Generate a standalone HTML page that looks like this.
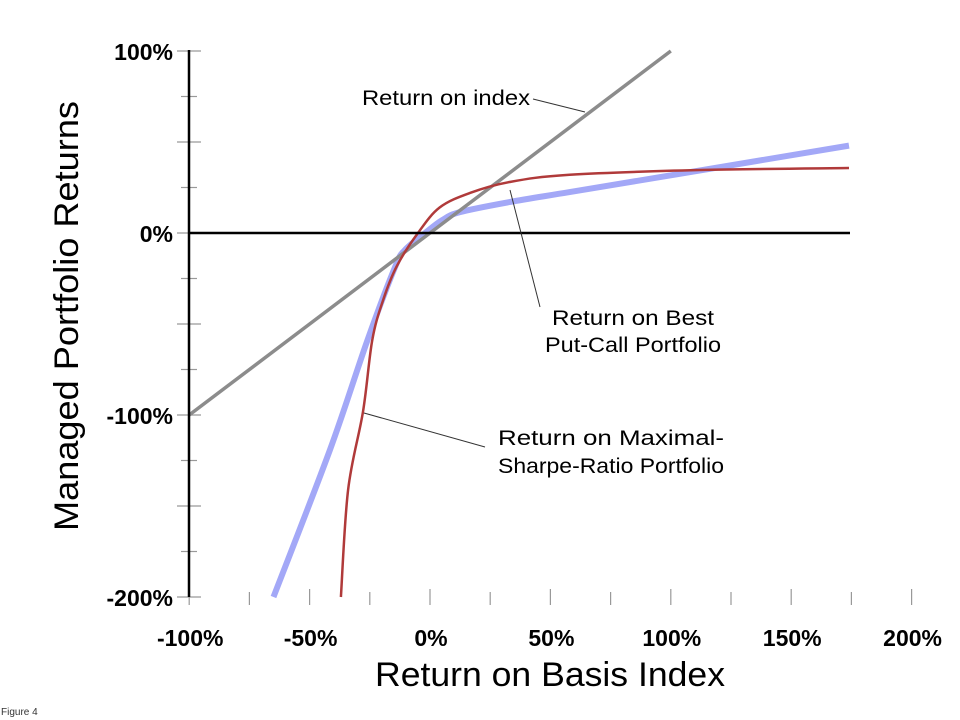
<!DOCTYPE html>
<html><head><meta charset="utf-8"><style>
body{margin:0;background:#fff;}
svg{display:block;font-family:"Liberation Sans",Arial,sans-serif;}
</style></head><body>
<svg id="chart" width="960" height="720" viewBox="0 0 960 720">
<rect width="960" height="720" fill="#fff"/>
<g id="ticks"></g>
<g id="series"></g>
<g id="labels"></g>
<line x1="189" y1="50" x2="189" y2="597" stroke="#000" stroke-width="2.5"/>
<line x1="189" y1="233" x2="850" y2="233" stroke="#000" stroke-width="2.5"/>
<g font-size="21" fill="#000">
<text x="362" y="105" textLength="168" lengthAdjust="spacingAndGlyphs">Return on index</text>
<line x1="533" y1="99" x2="585" y2="112" stroke="#333" stroke-width="1"/>
<text text-anchor="middle" x="633" y="325" textLength="162" lengthAdjust="spacingAndGlyphs">Return on Best</text>
<text text-anchor="middle" x="633" y="352" textLength="176" lengthAdjust="spacingAndGlyphs">Put-Call Portfolio</text>
<line x1="510" y1="190" x2="540" y2="307" stroke="#333" stroke-width="1"/>
<text text-anchor="middle" x="611" y="445" textLength="226" lengthAdjust="spacingAndGlyphs">Return on Maximal-</text>
<text text-anchor="middle" x="611" y="473" textLength="226" lengthAdjust="spacingAndGlyphs">Sharpe-Ratio Portfolio</text>
<line x1="364" y1="413" x2="485" y2="447" stroke="#333" stroke-width="1"/>
</g>
<text font-size="34" text-anchor="middle" transform="translate(78,316) rotate(-90)" textLength="430" lengthAdjust="spacingAndGlyphs">Managed Portfolio Returns</text>
<text font-size="34" text-anchor="middle" x="550" y="686" textLength="350" lengthAdjust="spacingAndGlyphs">Return on Basis Index</text>
<text font-size="10" x="1" y="715" fill="#333">Figure 4</text>
</svg>
<script>
const xTicks=[-100,-50,0,50,100,150,200];
const yTicks=[100,0,-100,-200];
const indexX=[-100,100];
const indexY=[-100,100];
const putCallX=[-65,-41.5,-26,-14.5,-10.4,-2,5,12.5,33,58,100,174];
const putCallY=[-200,-119,-59,-18.7,-9.3,0,7,11.5,17,22.5,31.7,48];
const sharpeX=[-37,-34,-27.8,-24,-19.5,-13.7,-5,4,16.6,33,58,112,174];
const sharpeY=[-200,-141,-98,-59,-37,-18,0,14,22,28,32,34.6,35.7];
const NS="http://www.w3.org/2000/svg";
function sx(v){return 430+v*2.408;}
function sy(v){return 233-v*1.82;}
const tg=document.getElementById('ticks');
for(let v=-100;v<=200;v+=25){
 const l=document.createElementNS(NS,'line');
 
 
 l.setAttribute('x1',sx(v));l.setAttribute('x2',sx(v));
 l.setAttribute('y1',v%50===0?589:592);l.setAttribute('y2',605);
 l.setAttribute('stroke','#999');l.setAttribute('stroke-width','1.2');tg.appendChild(l);
}
for(let v=-200;v<=100;v+=25){
 const l=document.createElementNS(NS,'line');
 
 
 const w=v%50===0?12:8;
 l.setAttribute('x1',189-w);l.setAttribute('x2',189+w);
 l.setAttribute('y1',sy(v));l.setAttribute('y2',sy(v));
 l.setAttribute('stroke','#999');l.setAttribute('stroke-width','1.2');tg.appendChild(l);
}
const lg=document.getElementById('labels');
xTicks.forEach(v=>{
 const t=document.createElementNS(NS,'text');
 
 
 t.setAttribute('x',sx(v)+1);t.setAttribute('y',646);
 t.setAttribute('text-anchor','middle');t.setAttribute('font-size','23');t.setAttribute('font-weight','bold');
 t.textContent=v+'%';lg.appendChild(t);
});
yTicks.forEach(v=>{
 const t=document.createElementNS(NS,'text');
 
 
 t.setAttribute('x',173);t.setAttribute('y',sy(v)+9);
 t.setAttribute('text-anchor','end');t.setAttribute('font-size','23');t.setAttribute('font-weight','bold');
 t.textContent=v+'%';lg.appendChild(t);
});
const sg=document.getElementById('series');
function path(xs,ys,color,w,name){
 const pts=xs.map((x,i)=>[sx(x),sy(ys[i])]);
 let d='M'+pts[0][0]+','+pts[0][1];
 for(let i=0;i<pts.length-1;i++){
  const p0=pts[Math.max(i-1,0)],p1=pts[i],p2=pts[i+1],p3=pts[Math.min(i+2,pts.length-1)];
  const c1=[p1[0]+(p2[0]-p0[0])/6,p1[1]+(p2[1]-p0[1])/6];
  const c2=[p2[0]-(p3[0]-p1[0])/6,p2[1]-(p3[1]-p1[1])/6];
  d+=' C'+c1[0]+','+c1[1]+' '+c2[0]+','+c2[1]+' '+p2[0]+','+p2[1];
 }
 const p=document.createElementNS(NS,'path');
 
 
 p.setAttribute('d',d);
 p.setAttribute('fill','none');p.setAttribute('stroke',color);p.setAttribute('stroke-width',w);
 p.setAttribute('stroke-linejoin','round');
 sg.appendChild(p);
}
path(putCallX,putCallY,'#a3a8f7',6,'put-call-line');
path(indexX,indexY,'#8c8c8c',3.5,'index-line');
path(sharpeX,sharpeY,'#b03a3a',2.5,'sharpe-line');
</script>
</body></html>
